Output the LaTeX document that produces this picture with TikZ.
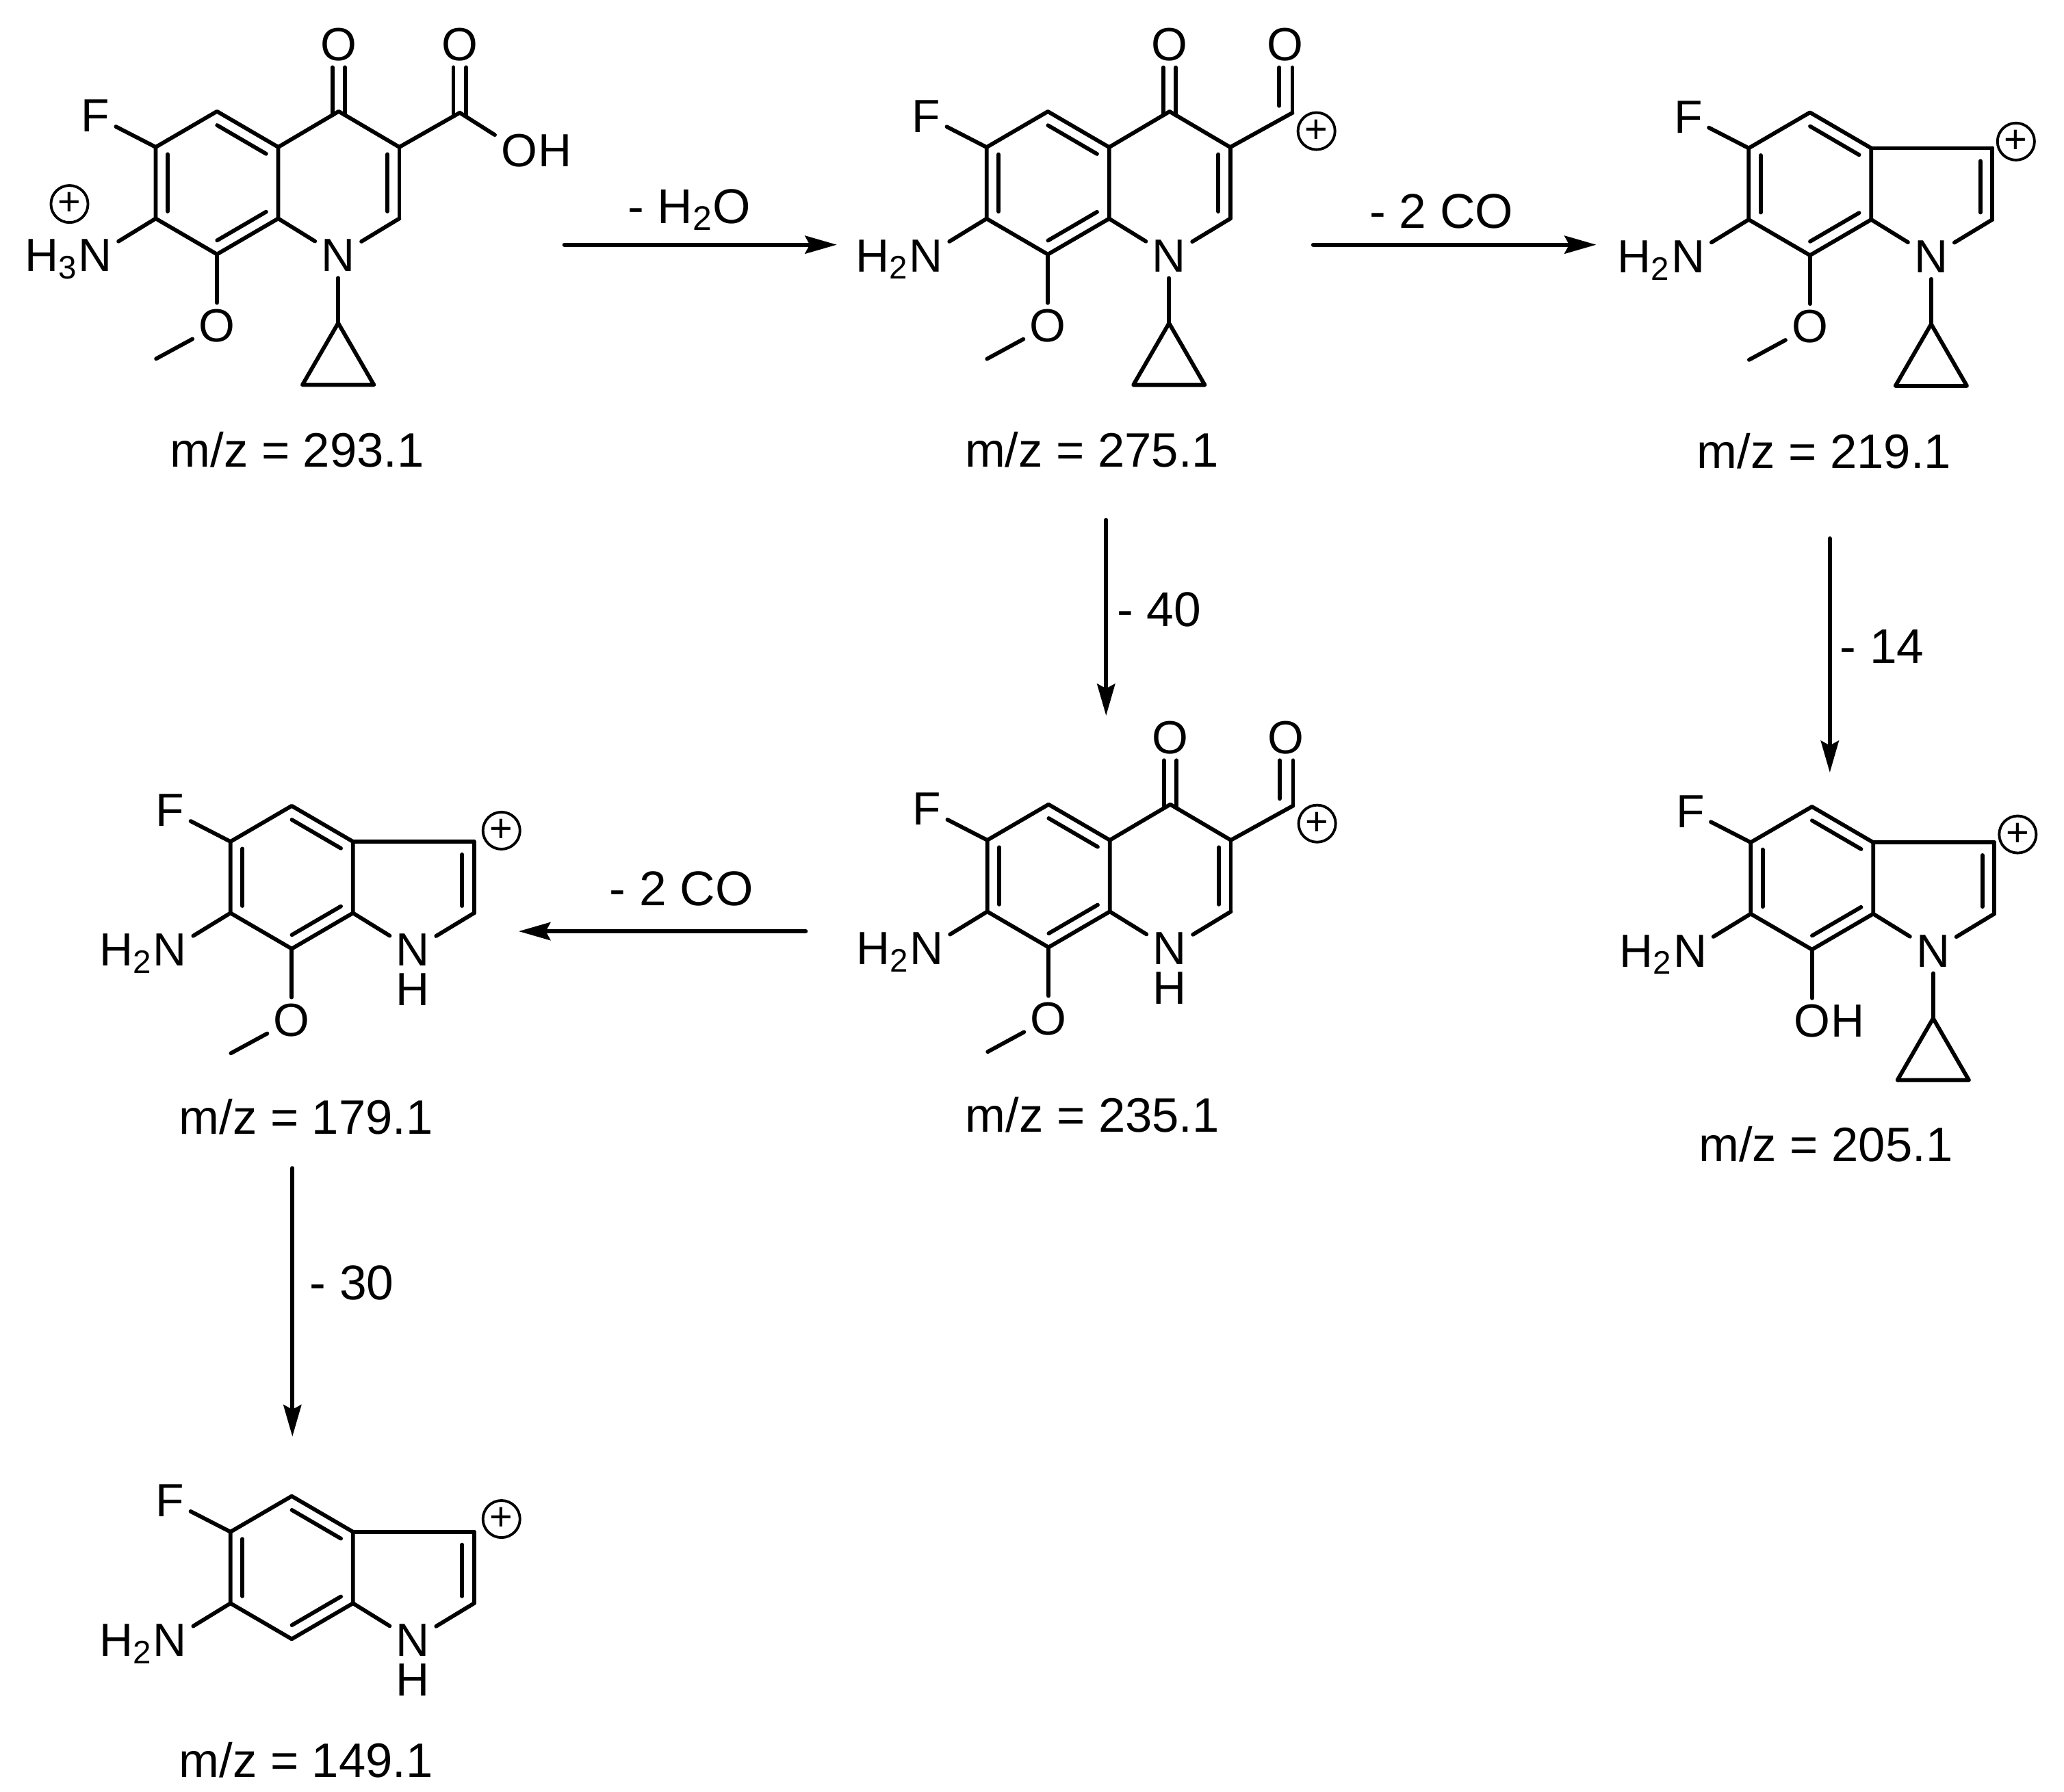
\documentclass[tikz,border=0pt]{standalone}
\usepackage{fontspec}
\setmainfont{Liberation Sans}
\usetikzlibrary{arrows.meta,calc}
\tikzset{
	bond/.style={line width=0.06cm},
	atom/.style={inner sep=0.09cm,font=\fontsize{20}{24}\selectfont},
	atompart/.style={inner sep=0pt,font=\fontsize{20}{24}\selectfont},
	charge/.style={draw,circle,line width=0.04cm,minimum size=0.56cm,inner sep=0pt,font=\fontsize{17}{17}\selectfont},
	mzlabel/.style={font=\fontsize{20.8}{26}\selectfont},
	losslabel/.style={font=\fontsize{21}{26}\selectfont},
	react/.style={->,line width=0.06cm}
}
% inner line of a double bond, on the right of a -> b
\newcommand{\innerbond}[3][.1]{\draw[bond] ($(#2)!#1!(#3)!0.18cm!-90:(#3)$) -- ($(#3)!.1!(#2)!0.18cm!90:(#2)$);}
\newcommand{\cobond}[2]{%
	\draw[bond] ($(#1)+(-4.8,2.8)$) -- ($(#2.south)+(-4.8,0)$);
	\draw[bond] ($(#1)+(4.8,2.8)$) -- ($(#2.south)+(4.8,0)$);}
\newcommand{\chobond}[2]{%
	\draw[bond] (#1) -- (#1 |- #2.south);
	\draw[bond] ($(#1)+(-10,-5.3)$) -- ($(#1 |- #2.south)+(-10,0)$);}
% benzene ring with F and the amine
\newcommand{\benzring}[2]{%
	\coordinate (#1a) at (0,-54);
	\coordinate (#1b) at (46.3,-27);
	\coordinate (#1c) at (46.3,27);
	\coordinate (#1d) at (0,54);
	\coordinate (#1e) at (-46.3,27);
	\coordinate (#1f) at (-46.3,-27);
	\node[atom] (#1F) at (-92,-50.5) {F};
	\node[atom] (#1A) at (-92,55) {N};
	\node[atompart,anchor=base east] (#1Ah) at ($(#1A.base west)+(4.5,0)$) {H\textsubscript{#2}};
	\draw[bond] (#1f)--(#1a)--(#1b)--(#1c)--(#1d)--(#1e)--cycle;
	\innerbond{#1a}{#1b}
	\innerbond{#1c}{#1d}
	\innerbond{#1e}{#1f}
	\draw[bond] (#1f)--(#1F);
	\draw[bond] (#1e)--(#1A);}
% right hand part: C3, C2 and the ring N
\newcommand{\azaring}[2][.1]{%
	\coordinate (#2h) at (137.8,-27);
	\coordinate (#2i) at (137.8,27);
	\node[atom] (#2M) at (91.6,55) {N};
	\draw[bond] (#2h)--(#2i);
	\innerbond[#1]{#2h}{#2i}
	\draw[bond] (#2c)--(#2M);
	\draw[bond] (#2i)--(#2M);}
\newcommand{\keto}[1]{%
	\coordinate (#1g) at (92,-54);
	\node[atom] (#1O) at (92,-104.6) {O};
	\draw[bond] (#1b)--(#1g)--(#1h);
	\cobond{#1g}{#1O}}
\newcommand{\methoxy}[1]{%
	\node[atom] (#1Q) at (0,108) {O};
	\coordinate (#1m) at (-46,133);
	\draw[bond] (#1d)--(#1Q);
	\draw[bond] (#1Q)--(#1m);}
\newcommand{\cyclopropyl}[1]{%
	\coordinate (#1t) at (91.6,106);
	\coordinate (#1u) at (64.6,152.7);
	\coordinate (#1v) at (118.6,152.7);
	\draw[bond] (#1M)--(#1t);
	\draw[bond] (#1t)--(#1u)--(#1v)--cycle;}
\newcommand{\ringH}[1]{\node[atompart] (#1Mh) at (91.6,85) {H};}
\begin{document}
\begin{tikzpicture}[x=0.02cm,y=-0.02cm,>={Stealth[length=0.48cm,width=0.27cm,inset=0.07cm]},line join=round,line cap=round]
	\useasboundingbox (0,0) rectangle (1560,1354.66);
	% m/z 293.1
	\begin{scope}[shift={(164,138.2)}]
		\benzring{mA}{3}
		\azaring{mA}
		\keto{mA}
		\methoxy{mA}
		\cyclopropyl{mA}
		\coordinate (mAs) at (183.5,-53);
		\node[atom] (mAp) at (183.5,-104.6) {O};
		\node[atom] (mAq) at (228.5,-24.5) {O};
		\node[atompart,anchor=base west] (mAqh) at ($(mAq.base east)+(-4.5,0)$) {H};
		\draw[bond] (mAh)--(mAs);
		\cobond{mAs}{mAp}
		\draw[bond] (mAs)--(mAq);
		\node[charge] (mAc) at (-111.5,16) {+};
	\end{scope}
	\node[mzlabel] (mzA) at (224.6,340) {m/z = 293.1};
	% m/z 275.1
	\begin{scope}[shift={(792,138.3)}]
		\benzring{mB}{2}
		\azaring{mB}
		\keto{mB}
		\methoxy{mB}
		\cyclopropyl{mB}
		\coordinate (mBs) at (184.8,-53);
		\node[atom] (mBp) at (179.5,-104.6) {O};
		\draw[bond] (mBh)--(mBs);
		\chobond{mBs}{mBp}
		\node[charge] (mBc) at (203,-39.2) {+};
	\end{scope}
	\node[mzlabel] (mzB) at (825.3,340) {m/z = 275.1};
	% m/z 219.1
	\begin{scope}[shift={(1368,139)}]
		\benzring{mC}{2}
		\azaring[.18]{mC}
		\methoxy{mC}
		\cyclopropyl{mC}
		\draw[bond] (mCb)--(mCh);
		\node[charge] (mCc) at (155.7,-32) {+};
	\end{scope}
	\node[mzlabel] (mzC) at (1378.7,341.2) {m/z = 219.1};
	% m/z 235.1
	\begin{scope}[shift={(792.5,662.1)}]
		\benzring{mD}{2}
		\azaring{mD}
		\keto{mD}
		\methoxy{mD}
		\ringH{mD}
		\coordinate (mDs) at (184.8,-53);
		\node[atom] (mDp) at (179.5,-104.6) {O};
		\draw[bond] (mDh)--(mDs);
		\chobond{mDs}{mDp}
		\node[charge] (mDc) at (203,-39.5) {+};
	\end{scope}
	\node[mzlabel] (mzD) at (825.7,842.8) {m/z = 235.1};
	% m/z 179.1
	\begin{scope}[shift={(220.5,663.2)}]
		\benzring{mE}{2}
		\azaring[.18]{mE}
		\methoxy{mE}
		\ringH{mE}
		\draw[bond] (mEb)--(mEh);
		\node[charge] (mEc) at (158.5,-35.3) {+};
	\end{scope}
	\node[mzlabel] (mzE) at (231.3,844) {m/z = 179.1};
	% m/z 205.1
	\begin{scope}[shift={(1369.5,663.8)}]
		\benzring{mF}{2}
		\azaring[.18]{mF}
		\cyclopropyl{mF}
		\node[atom] (mFQ) at (0,108) {O};
		\node[atompart,anchor=base west] (mFQh) at ($(mFQ.base east)+(-4.5,0)$) {H};
		\draw[bond] (mFd)--(mFQ);
		\draw[bond] (mFb)--(mFh);
		\node[charge] (mFc) at (155.5,-33) {+};
	\end{scope}
	\node[mzlabel] (mzF) at (1379.9,864.9) {m/z = 205.1};
	% m/z 149.1
	\begin{scope}[shift={(220.5,1185)}]
		\benzring{mG}{2}
		\azaring[.18]{mG}
		\ringH{mG}
		\draw[bond] (mGb)--(mGh);
		\node[charge] (mGc) at (158.5,-36.7) {+};
	\end{scope}
	\node[mzlabel] (mzG) at (231.3,1330.6) {m/z = 149.1};
	% reaction arrows
	\coordinate (arAs) at (426.5,185); \coordinate (arAe) at (632.5,185);
	\coordinate (arBs) at (992.5,185); \coordinate (arBe) at (1206.5,185);
	\coordinate (arCs) at (836,393); \coordinate (arCe) at (836,541);
	\coordinate (arDs) at (1383,407); \coordinate (arDe) at (1383,584);
	\coordinate (arEs) at (609,704); \coordinate (arEe) at (392,704);
	\coordinate (arFs) at (221,883); \coordinate (arFe) at (221,1086);
	\draw[react] (arAs)--(arAe);
	\draw[react] (arBs)--(arBe);
	\draw[react] (arCs)--(arCe);
	\draw[react] (arDs)--(arDe);
	\draw[react] (arEs)--(arEe);
	\draw[react] (arFs)--(arFe);
	\node[losslabel] (lsA) at (521,158.5) {- H\textsubscript{2}O};
	\node[losslabel] (lsB) at (1089.5,160) {- 2 CO};
	\node[losslabel] (lsC) at (876,461) {- 40};
	\node[losslabel] (lsD) at (1422.5,489) {- 14};
	\node[losslabel] (lsE) at (515,672) {- 2 CO};
	\node[losslabel] (lsF) at (266,970) {- 30};
\end{tikzpicture}
\end{document}
